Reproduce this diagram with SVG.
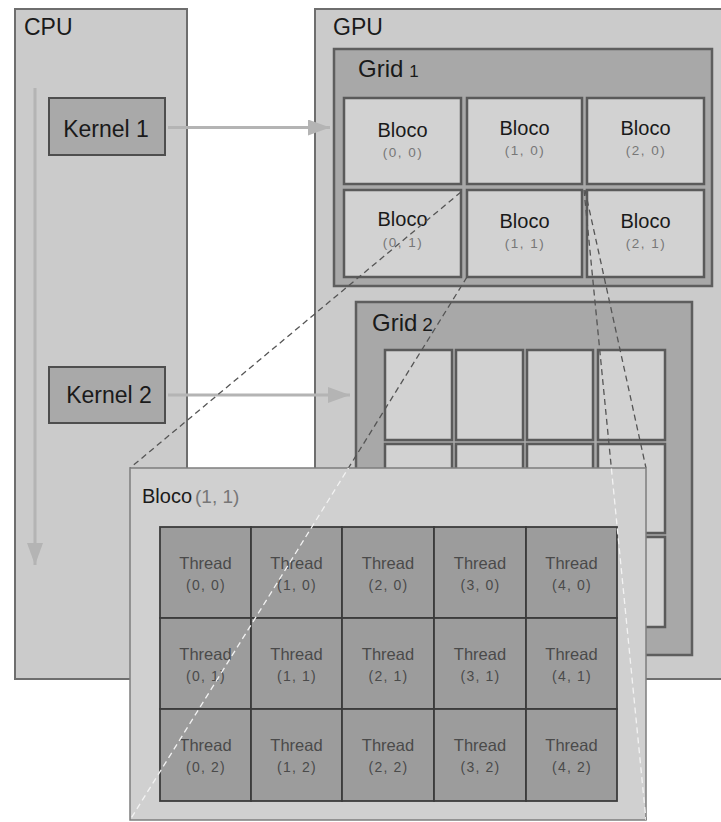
<svg xmlns="http://www.w3.org/2000/svg" width="721" height="822" viewBox="0 0 721 822">
<style>
text{font-family:"Liberation Sans",Arial,sans-serif}
.box{fill:#cbcbcb;stroke:#6e6e6e;stroke-width:2}
.kern{fill:#a9a9a9;stroke:#4e4e4e;stroke-width:2}
.grid{fill:#a8a8a8;stroke:#5e5e5e;stroke-width:2.5}
.blk{fill:#d2d2d2;stroke:#5a5a5a;stroke-width:2.5}
.lbl{font-size:23px;fill:#1a1a1a}
.bt{font-size:20px;fill:#1a1a1a;text-anchor:middle}
.bc{font-size:13.5px;fill:#777;text-anchor:middle;letter-spacing:1.5px}
.th{fill:#9c9c9c;stroke:#3c3c3c;stroke-width:1.8}
.tt{font-size:16.5px;fill:#4a4a4a;text-anchor:middle}
.tc{font-size:14px;fill:#4a4a4a;text-anchor:middle;letter-spacing:1.2px}
.arr{stroke:#b4b4b4;stroke-width:3;fill:none}
.dash{stroke:#555;stroke-width:1.3;stroke-dasharray:6 4;fill:none}
.wdash{stroke:#f2f2f2;stroke-width:1.3;stroke-dasharray:6 4;fill:none}
</style>
<defs>
<marker id="ah" markerUnits="userSpaceOnUse" markerWidth="22" markerHeight="16" refX="22" refY="8" orient="auto">
<path d="M0,0 L22,8 L0,16 Z" fill="#b4b4b4"/>
</marker>
<clipPath id="bigclip"><rect x="130" y="468" width="516" height="352"/></clipPath>
</defs>
<rect width="721" height="822" fill="#ffffff"/>

<g id="cpu">
<rect class="box" x="15" y="9" width="172" height="670"/>
<text class="lbl" x="24" y="35">CPU</text>
</g>

<g id="gpu">
<rect class="box" x="315" y="9" width="420" height="670"/>
<text class="lbl" x="333" y="35">GPU</text>
</g>

<g id="kernel1">
<rect class="kern" x="49" y="98" width="116" height="57"/>
<text class="lbl" x="106" y="137" text-anchor="middle">Kernel 1</text>
</g>
<g id="kernel2">
<rect class="kern" x="49" y="367" width="116" height="56"/>
<text class="lbl" x="109" y="403" text-anchor="middle">Kernel 2</text>
</g>

<g id="grid1">
<rect class="grid" x="334" y="49" width="378" height="237"/>
<text class="lbl" x="358" y="77" style="font-size:24px">Grid<tspan font-size="17px" dx="6">1</tspan></text>
</g>
<g id="g1-b00"><rect class="blk" x="344" y="98" width="117" height="86"/><text class="bt" x="402.5" y="137">Bloco</text><text class="bc" x="403" y="157">(0, 0)</text></g>
<g id="g1-b10"><rect class="blk" x="467" y="98" width="115" height="86"/><text class="bt" x="524.5" y="135">Bloco</text><text class="bc" x="525" y="155">(1, 0)</text></g>
<g id="g1-b20"><rect class="blk" x="587" y="98" width="117" height="86"/><text class="bt" x="645.5" y="135">Bloco</text><text class="bc" x="646" y="155">(2, 0)</text></g>
<g id="g1-b01"><rect class="blk" x="344" y="190" width="117" height="87"/><text class="bt" x="402.5" y="226">Bloco</text><text class="bc" x="403" y="247">(0, 1)</text></g>
<g id="g1-b11"><rect class="blk" x="467" y="190" width="115" height="87"/><text class="bt" x="524.5" y="228">Bloco</text><text class="bc" x="525" y="248">(1, 1)</text></g>
<g id="g1-b21"><rect class="blk" x="587" y="190" width="117" height="87"/><text class="bt" x="645.5" y="228">Bloco</text><text class="bc" x="646" y="248">(2, 1)</text></g>

<g id="grid2">
<rect class="grid" x="356" y="302" width="336" height="353"/>
<text class="lbl" x="372" y="331" style="font-size:24px">Grid<tspan font-size="19px" dx="5">2</tspan></text>
<rect class="blk" x="385" y="350" width="67" height="90"/>
<rect class="blk" x="456" y="350" width="67" height="90"/>
<rect class="blk" x="527" y="350" width="66" height="90"/>
<rect class="blk" x="598" y="350" width="67" height="90"/>
<rect class="blk" x="385" y="444" width="67" height="89"/>
<rect class="blk" x="456" y="444" width="67" height="89"/>
<rect class="blk" x="527" y="444" width="66" height="89"/>
<rect class="blk" x="598" y="444" width="67" height="89"/>
<rect class="blk" x="385" y="537" width="67" height="90"/>
<rect class="blk" x="456" y="537" width="67" height="90"/>
<rect class="blk" x="527" y="537" width="66" height="90"/>
<rect class="blk" x="598" y="537" width="67" height="90"/>
</g>

<g id="connectors">
<line class="arr" x1="35" y1="88" x2="35" y2="565" marker-end="url(#ah)"/>
<line class="arr" x1="168" y1="127.5" x2="330" y2="127.5" marker-end="url(#ah)"/>
<line class="arr" x1="168" y1="395" x2="350" y2="395" marker-end="url(#ah)"/>
<line class="dash" x1="461" y1="192" x2="130" y2="468"/>
<line class="dash" x1="467" y1="277" x2="130" y2="820"/>
<line class="dash" x1="584" y1="190" x2="646" y2="820"/>
<line class="dash" x1="585" y1="190" x2="646" y2="468"/>
</g>

<g id="bloco11">
<rect x="130" y="468" width="516" height="352" fill="#d0d0d0" stroke="#7e7e7e" stroke-width="1.5"/>
<text x="142" y="503" font-size="20px" fill="#1a1a1a">Bloco<tspan fill="#777" font-size="19px" dx="3">(1, 1)</tspan></text>
</g>

<g id="threads">
<rect class="th" x="160" y="527" width="91" height="91"/>
<rect class="th" x="251" y="527" width="91" height="91"/>
<rect class="th" x="342" y="527" width="92" height="91"/>
<rect class="th" x="434" y="527" width="92" height="91"/>
<rect class="th" x="526" y="527" width="91" height="91"/>
<rect class="th" x="160" y="618" width="91" height="91"/>
<rect class="th" x="251" y="618" width="91" height="91"/>
<rect class="th" x="342" y="618" width="92" height="91"/>
<rect class="th" x="434" y="618" width="92" height="91"/>
<rect class="th" x="526" y="618" width="91" height="91"/>
<rect class="th" x="160" y="709" width="91" height="92"/>
<rect class="th" x="251" y="709" width="91" height="92"/>
<rect class="th" x="342" y="709" width="92" height="92"/>
<rect class="th" x="434" y="709" width="92" height="92"/>
<rect class="th" x="526" y="709" width="91" height="92"/>
<text class="tt" x="205.5" y="569">Thread</text><text class="tc" x="206" y="590">(0, 0)</text>
<text class="tt" x="296.5" y="569">Thread</text><text class="tc" x="297" y="590">(1, 0)</text>
<text class="tt" x="388" y="569">Thread</text><text class="tc" x="388.5" y="590">(2, 0)</text>
<text class="tt" x="480" y="569">Thread</text><text class="tc" x="480.5" y="590">(3, 0)</text>
<text class="tt" x="571.5" y="569">Thread</text><text class="tc" x="572" y="590">(4, 0)</text>
<text class="tt" x="205.5" y="660">Thread</text><text class="tc" x="206" y="681">(0, 1)</text>
<text class="tt" x="296.5" y="660">Thread</text><text class="tc" x="297" y="681">(1, 1)</text>
<text class="tt" x="388" y="660">Thread</text><text class="tc" x="388.5" y="681">(2, 1)</text>
<text class="tt" x="480" y="660">Thread</text><text class="tc" x="480.5" y="681">(3, 1)</text>
<text class="tt" x="571.5" y="660">Thread</text><text class="tc" x="572" y="681">(4, 1)</text>
<text class="tt" x="205.5" y="751">Thread</text><text class="tc" x="206" y="772">(0, 2)</text>
<text class="tt" x="296.5" y="751">Thread</text><text class="tc" x="297" y="772">(1, 2)</text>
<text class="tt" x="388" y="751">Thread</text><text class="tc" x="388.5" y="772">(2, 2)</text>
<text class="tt" x="480" y="751">Thread</text><text class="tc" x="480.5" y="772">(3, 2)</text>
<text class="tt" x="571.5" y="751">Thread</text><text class="tc" x="572" y="772">(4, 2)</text>
</g>

<g id="connectors-overlay" clip-path="url(#bigclip)">
<line class="wdash" x1="467" y1="277" x2="130" y2="820"/>
<line class="wdash" x1="584" y1="190" x2="646" y2="820"/>
</g>
</svg>
